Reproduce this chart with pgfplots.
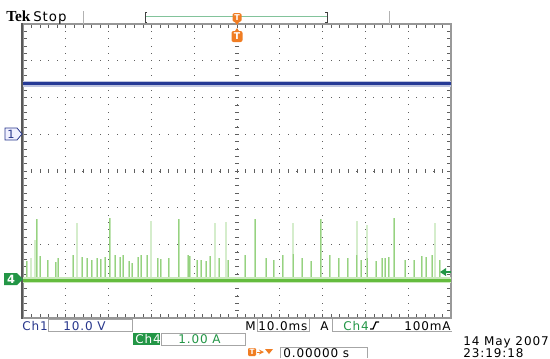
\documentclass[border=0pt]{standalone}
\usepackage{pgfplots}
\pgfplotsset{compat=1.18}
\usepackage{pgfplotstable}
\usepackage{fontspec}
\setmainfont{DejaVu Sans}
\newfontfamily\rdfont{DejaVu Sans}[LetterSpace=7.5]
\newfontfamily\tekfont{Liberation Serif}
\definecolor{tblue}{RGB}{38,58,150}
\definecolor{txtblue}{RGB}{40,55,140}
\definecolor{tgreen}{RGB}{100,188,62}
\definecolor{spk}{RGB}{150,210,128}
\definecolor{labgreen}{RGB}{35,150,70}
\definecolor{torange}{RGB}{240,125,35}
\definecolor{tgrid}{RGB}{95,95,95}
\definecolor{tframe}{RGB}{150,150,150}
\definecolor{barg}{RGB}{130,195,155}

\pgfplotstableread{
x h
0.09 0.52
0.40 0.65
0.58 0.55
0.77 0.50
0.82 0.59
1.17 0.68
1.38 0.63
1.50 0.59
1.61 0.55
1.73 0.59
1.82 0.57
1.92 0.63
2.15 0.68
2.27 0.63
2.34 0.68
2.48 0.52
2.55 0.48
2.69 0.63
2.76 0.68
2.90 0.68
3.15 0.59
3.22 0.57
3.41 0.61
3.86 0.68
3.90 0.66
4.07 0.55
4.16 0.55
4.28 0.52
4.37 0.65
4.58 0.61
4.79 0.55
5.19 0.68
5.68 0.59
5.86 0.55
6.07 0.68
6.31 0.70
6.52 0.59
6.73 0.52
7.17 0.68
7.38 0.59
7.59 0.59
7.80 0.68
7.90 0.55
8.04 0.60
8.25 0.52
8.39 0.59
8.46 0.61
8.55 0.63
8.93 0.55
9.14 0.55
9.32 0.65
9.42 0.63
9.56 0.68
9.74 0.55
}\medspikes

\pgfplotstableread{
x h
0.32 1.66
2.03 1.68
3.64 1.66
5.42 1.66
6.96 1.66
8.67 1.70
}\tallspikes

\pgfplotstableread{
x h
0.19 0.59
0.28 1.10
1.26 1.55
2.99 1.60
4.49 1.55
4.74 1.58
6.31 1.55
7.80 1.60
8.04 1.50
9.63 1.55
}\faintspikes

\begin{document}
\begin{tikzpicture}
\begin{scope}[x=0.75pt,y=-0.75pt]
\useasboundingbox (0,0) rectangle (550,358);
\fill[white] (0,0) rectangle (550,358);

% ---- graticule dots
\foreach \i in {1,...,9}{
  \foreach \j in {1,...,39}{
    \fill[tgrid] ({23+\i*42.8-0.5},{24+\j*7.35-0.5}) rectangle ++(1,1);
  }
}
\foreach \k in {1,...,7}{
  \foreach \j in {1,...,49}{
    \fill[tgrid] ({23+\j*8.56-0.5},{24+\k*36.75-0.5}) rectangle ++(1,1);
  }
}
% center-line ticks
\foreach \j in {1,...,39}{
  \draw[tgrid, line width=0.5pt] (235,{24+\j*7.35}) -- (239,{24+\j*7.35});
  \draw[tgrid, line width=0.5pt] (23,{24+\j*7.35}) -- (27,{24+\j*7.35});
  \draw[tgrid, line width=0.5pt] (447,{24+\j*7.35}) -- (451,{24+\j*7.35});
}
\foreach \j in {1,...,49}{
  \draw[tgrid, line width=0.5pt] ({23+\j*8.56},169) -- ({23+\j*8.56},173);
  \draw[tgrid, line width=0.5pt] ({23+\j*8.56},24) -- ({23+\j*8.56},28);
  \draw[tgrid, line width=0.5pt] ({23+\j*8.56},314) -- ({23+\j*8.56},318);
}
% frame
\draw[tframe, line width=1.6pt] (23,24) rectangle (451,318);
\draw[gray!70!black, line width=2.2pt] (22,23) -- (22,319);
\draw[gray!80, line width=2.2pt] (451,23) -- (451,319);
\end{scope}

% ---- data
\begin{axis}[at={(17.25pt,-238.5pt)}, anchor=south west, scale only axis,
  width=321pt, height=220.5pt, xmin=0, xmax=10, ymin=-4, ymax=4,
  hide axis, clip=true]
\addplot[draw=none, forget plot, error bars/.cd, y dir=plus, y explicit,
  error mark=none, error bar style={draw=spk!40, line width=1.2pt}]
  table[x=x, y expr=-2.97, y error=h] {\faintspikes};
\addplot[draw=none, forget plot, error bars/.cd, y dir=plus, y explicit,
  error mark=none, error bar style={draw=spk!55, line width=1.6pt}]
  table[x=x, y expr=-2.97, y error=h] {\medspikes};
\addplot[draw=none, forget plot, error bars/.cd, y dir=plus, y explicit,
  error mark=none, error bar style={draw=spk, line width=0.7pt}]
  table[x=x, y expr=-2.97, y error=h] {\medspikes};
\addplot[draw=none, forget plot, error bars/.cd, y dir=plus, y explicit,
  error mark=none, error bar style={draw=spk!60, line width=1.6pt}]
  table[x=x, y expr=-2.97, y error=h] {\tallspikes};
\addplot[draw=none, forget plot, error bars/.cd, y dir=plus, y explicit,
  error mark=none, error bar style={draw=spk, line width=0.7pt}]
  table[x=x, y expr=-2.97, y error=h] {\tallspikes};
\addplot[tgreen!35, line width=4.2pt] coordinates {(0,-2.97) (10,-2.97)};
\addplot[tgreen, line width=2.2pt] coordinates {(0,-2.97) (10,-2.97)};
\addplot[tblue!30, line width=4.6pt] coordinates {(0,2.37) (10,2.37)};
\addplot[tblue, line width=2.2pt] coordinates {(0,2.37) (10,2.37)};
\end{axis}

\begin{scope}[x=0.75pt,y=-0.75pt]
% ---- channel markers
\filldraw[draw=txtblue, fill=blue!6, line width=0.6pt]
  (5,128) -- (17,128) -- (22,134) -- (17,140) -- (5,140) -- cycle;
\node[txtblue, font=\fontsize{8.5}{9}\selectfont, inner sep=0] at (11,134) {1};
\fill[labgreen] (4,273) -- (17,273) -- (23,279) -- (17,285) -- (4,285) -- cycle;
\node[white, font=\bfseries\fontsize{8.5}{9}\selectfont, inner sep=0] at (11,279) {4};
% trigger level arrow (right)
\fill[labgreen] (440,272) -- (446,268) -- (446,276) -- cycle;
\draw[labgreen, line width=1.2pt] (445,272) -- (451,272);

% ---- top bar
\node[anchor=base west, inner sep=0, font=\tekfont\bfseries\fontsize{11.5}{12}\selectfont] at (6,21) {Tek};
\node[anchor=base west, inner sep=0, font=\rdfont\fontsize{10}{10}\selectfont] at (33,21) {Stop};
\draw[gray!60, line width=0.6pt] (83,11) -- (83,24);
\draw[gray!60, line width=0.6pt] (389,11) -- (389,24);
\draw[barg, line width=1pt] (146,16.5) -- (327,16.5);
\draw[black!75, line width=0.6pt] (147,12) -- (145,12) -- (145,22) -- (147,22);
\draw[black!75, line width=0.6pt] (325,12) -- (327,12) -- (327,22) -- (325,22);
% trigger position markers
\fill[torange, rounded corners=1.2pt] (232.5,13) rectangle (241.5,22);
\fill[torange] (235,22) -- (239,22) -- (237,25) -- cycle;
\node[white, font=\bfseries\fontsize{6}{6}\selectfont, inner sep=0] at (237,17.5) {T};
\fill[torange] (235,31) -- (239,31) -- (237,28) -- cycle;
\fill[torange, rounded corners=1.5pt] (231.5,31) rectangle (242.5,42);
\node[white, font=\bfseries\fontsize{7}{7}\selectfont, inner sep=0] at (237,36.5) {T};

% ---- bottom readouts
\tikzset{rd/.style={anchor=base west, inner sep=0, font=\rdfont\fontsize{9}{9}\selectfont}}
\node[rd, txtblue] at (22,330) {Ch1};
\draw[gray!70, line width=0.6pt] (48,319) rectangle (132,331);
\node[rd, txtblue] at (63,330) {10.0 V};
\fill[labgreen] (133,333) rectangle (160,345);
\node[rd, white] at (135,343.5) {Ch4};
\draw[gray!70, line width=0.6pt] (161,333) rectangle (245,345);
\node[rd, labgreen] at (178,343.5) {1.00 A};
\node[rd] at (245,330) {M};
\draw[gray!70, line width=0.6pt] (257,319) -- (257,331) -- (309,331) -- (309,319);
\node[rd] at (258,330) {10.0ms};
\node[rd] at (320,330) {A};
\draw[gray!70, line width=0.6pt] (332,319) -- (332,331) -- (452,331);
\node[rd, labgreen] at (343,330) {Ch4};
\draw[black, line width=0.9pt] (370,329) -- (373,329) -- (376,322) -- (379,322);
\node[rd] at (404,330) {100mA};
% trigger offset
\fill[torange, rounded corners=0.8pt] (248,348) rectangle (256,356);
\node[white, font=\bfseries\fontsize{5.5}{6}\selectfont, inner sep=0] at (252,352) {T};
\draw[torange, line width=0.7pt, -stealth] (257,352) -- (264,352);
\fill[torange] (265,349) -- (273,349) -- (269,354) -- cycle;
\draw[gray!70, line width=0.6pt] (280,358) -- (280,347) -- (367,347) -- (367,358);
\node[rd] at (283,357.5) {0.00000 s};
% date
\node[rd] at (463,345.5) {14 May 2007};
\node[rd] at (463,357.5) {23:19:18};
\end{scope}
\end{tikzpicture}
\end{document}
